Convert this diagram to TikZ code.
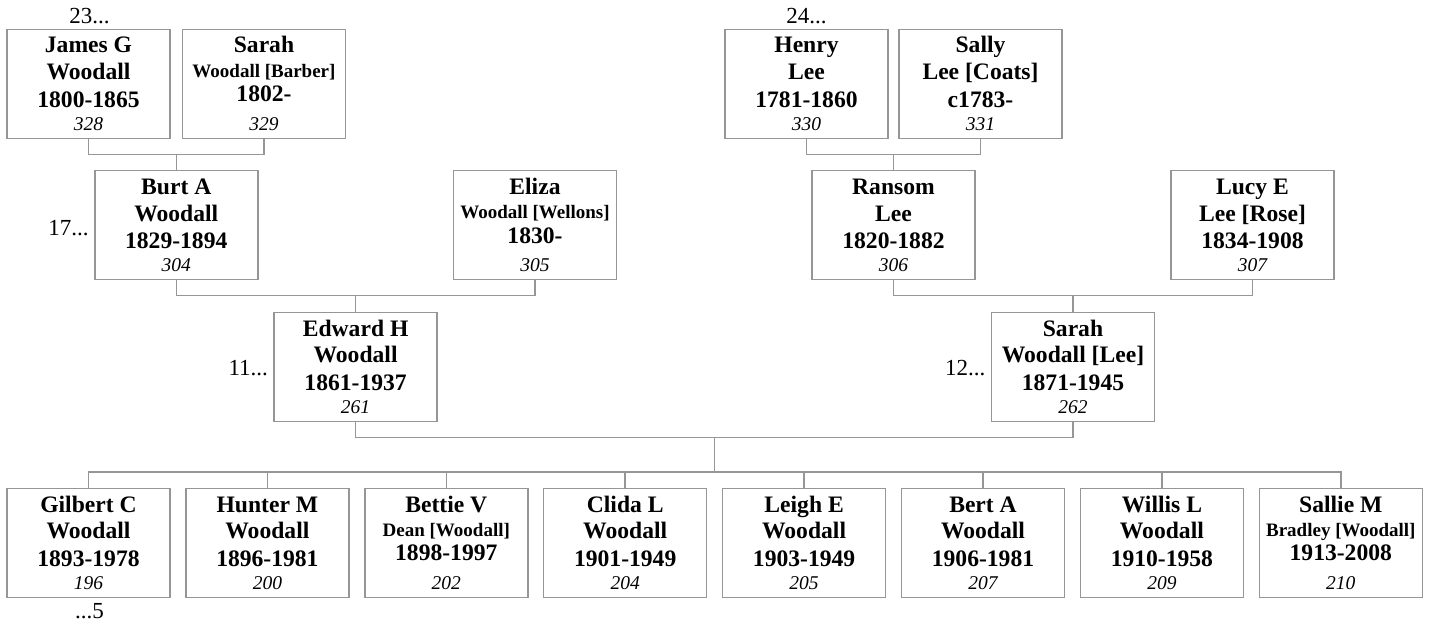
\documentclass[tikz,border=0pt]{standalone}
\usepackage{fontspec}
\setmainfont{Liberation Serif}
\usetikzlibrary{calc}
\definecolor{linegray}{RGB}{150,150,150}
\tikzset{
  pbox/.style={draw=linegray, line width=1.5pt, rectangle, minimum width=163pt, minimum height=109pt, inner sep=0pt, outer sep=0pt, anchor=north},
  conn/.style={draw=linegray, line width=1.5pt},
  bigln/.style={font=\bfseries\fontsize{23.6}{26}\selectfont, anchor=base, inner sep=0pt},
  smallln/.style={font=\bfseries\fontsize{19}{22}\selectfont, anchor=base, inner sep=0pt},
  numln/.style={font=\itshape\fontsize{19.5}{22}\selectfont, anchor=base, inner sep=0pt},
  reflbl/.style={font=\fontsize{23}{26}\selectfont, inner sep=0pt},
}
\newcommand{\personA}[7]{%
  \node[pbox] (#1) at (#2,#3) {};
  \node[bigln] (#1-a) at ($(#1.north)+(0,23.7)$) {#4};
  \node[bigln] (#1-b) at ($(#1.north)+(0,50.6)$) {#5};
  \node[bigln] (#1-c) at ($(#1.north)+(0,77.7)$) {#6};
  \node[numln] (#1-d) at ($(#1.north)+(0,101)$) {#7};
}
\newcommand{\personB}[7]{%
  \node[pbox] (#1) at (#2,#3) {};
  \node[bigln] (#1-a) at ($(#1.north)+(0,23.7)$) {#4};
  \node[smallln] (#1-b) at ($(#1.north)+(0,47.8)$) {#5};
  \node[bigln] (#1-c) at ($(#1.north)+(0,72.5)$) {#6};
  \node[numln] (#1-d) at ($(#1.north)+(0,101)$) {#7};
}
\begin{document}
\begin{tikzpicture}[x=1pt,y=-1pt]
\useasboundingbox (0,0) rectangle (1430,626);
% generation 1
\personA{james}{88.5}{29.3}{James G}{Woodall}{1800-1865}{328}
\personB{sarahb}{264}{29.3}{Sarah}{Woodall [Barber]}{1802-}{329}
\personA{henry}{806.5}{29.3}{Henry}{Lee}{1781-1860}{330}
\personA{sally}{980.5}{29.3}{Sally}{Lee [Coats]}{c1783-}{331}
% generation 2
\personA{burt}{176.25}{170.7}{Burt A}{Woodall}{1829-1894}{304}
\personB{eliza}{535}{170.7}{Eliza}{Woodall [Wellons]}{1830-}{305}
\personA{ransom}{893.5}{170.7}{Ransom}{Lee}{1820-1882}{306}
\personA{lucy}{1252.5}{170.7}{Lucy E}{Lee [Rose]}{1834-1908}{307}
% generation 3
\personA{edward}{355.6}{312.3}{Edward H}{Woodall}{1861-1937}{261}
\personA{sarahl}{1073}{312.3}{Sarah}{Woodall [Lee]}{1871-1945}{262}
% children
\personA{gilbert}{88.5}{488.3}{Gilbert C}{Woodall}{1893-1978}{196}
\personA{hunter}{267.4}{488.3}{Hunter M}{Woodall}{1896-1981}{200}
\personB{bettie}{446.3}{488.3}{Bettie V}{Dean [Woodall]}{1898-1997}{202}
\personA{clida}{625.2}{488.3}{Clida L}{Woodall}{1901-1949}{204}
\personA{leigh}{804.1}{488.3}{Leigh E}{Woodall}{1903-1949}{205}
\personA{bert}{983.0}{488.3}{Bert A}{Woodall}{1906-1981}{207}
\personA{willis}{1161.9}{488.3}{Willis L}{Woodall}{1910-1958}{209}
\personB{sallie}{1340.8}{488.3}{Sallie M}{Bradley [Woodall]}{1913-2008}{210}
% reference labels
\node[reflbl, anchor=base] (l23) at ($(james.north)+(1,-5.3)$) {23...};
\node[reflbl, anchor=base] (l24) at ($(henry.north)+(0,-5.3)$) {24...};
\node[reflbl, anchor=base east] (l17) at ($(burt.north west)+(-6,64.3)$) {17...};
\node[reflbl, anchor=base east] (l11) at ($(edward.north west)+(-6,63.4)$) {11...};
\node[reflbl, anchor=base east] (l12) at ($(sarahl.north west)+(-6,63.4)$) {12...};
\node[reflbl, anchor=base] (l5) at ($(gilbert.south)+(1,21)$) {...5};
% connectors
\coordinate (u1) at (176.25,154.3);
\coordinate (u2) at (355.6,295.7);
\coordinate (u3) at (893.5,154.3);
\coordinate (u4) at (1073,295.7);
\coordinate (u5) at (714.5,437.5);
\coordinate (u6) at (714.5,472);
\draw[conn] (james.south) |- (u1) -| (sarahb.south);
\draw[conn] (u1) -- (burt.north);
\draw[conn] (henry.south) |- (u3) -| (sally.south);
\draw[conn] (u3) -- (ransom.north);
\draw[conn] (burt.south) |- (u2) -| (eliza.south);
\draw[conn] (u2) -- (edward.north);
\draw[conn] (ransom.south) |- (u4) -| (lucy.south);
\draw[conn] (u4) -- (sarahl.north);
\draw[conn] (edward.south) |- (u5) -| (sarahl.south);
\draw[conn] (u5) -- (u6);
\draw[conn] (gilbert.north) |- (u6) -| (sallie.north);
\foreach \c in {hunter,bettie,clida,leigh,bert,willis}
  \draw[conn] (\c.north) -- (\c.north |- u6);
\end{tikzpicture}
\end{document}
